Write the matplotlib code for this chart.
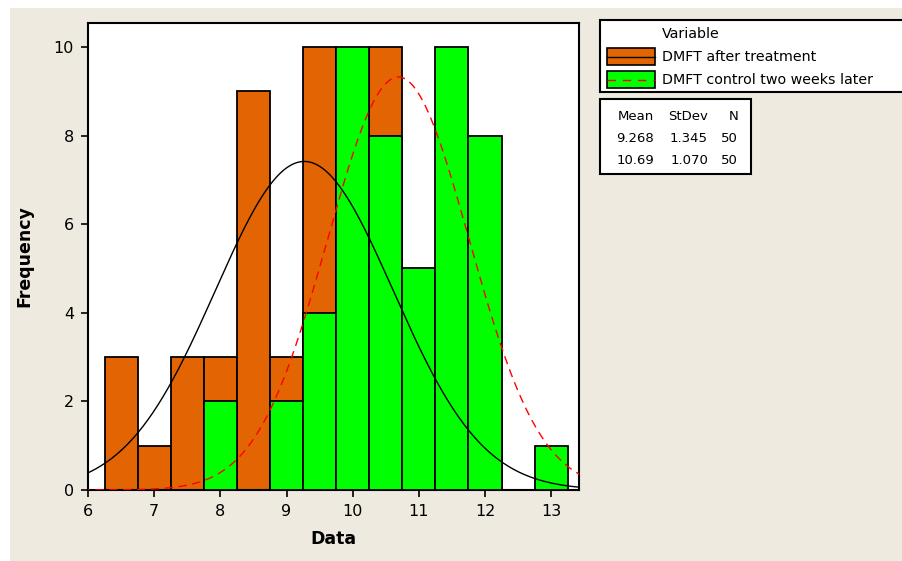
import numpy as np
import matplotlib
matplotlib.use("Agg")
import matplotlib.pyplot as plt
from matplotlib.patches import Rectangle
from matplotlib.lines import Line2D

# ---- data ----
bin_centers = [6.5, 7.0, 7.5, 8.0, 8.5, 9.0, 9.5, 10.0, 10.5, 11.0, 11.5, 12.0, 12.5, 13.0]
after_counts = [3, 1, 3, 3, 9, 3, 10, 3, 10, 3, 0, 2, 0, 0]
control_counts = [0, 0, 0, 2, 0, 2, 4, 10, 8, 5, 10, 8, 0, 1]
series_names = ["DMFT after treatment", "DMFT control two weeks later"]
means = [9.268, 10.69]
stdevs = [1.345, 1.070]
ns = [50, 50]
mean_labels = ["9.268", "10.69"]
sd_labels = ["1.345", "1.070"]
x_ticks = [6, 7, 8, 9, 10, 11, 12, 13]
y_ticks = [0, 2, 4, 6, 8, 10]
bin_width = 0.5

ORANGE = "#E36402"
GREEN = "#00FF00"
BEIGE = "#EEEAE0"

fig = plt.figure(figsize=(9.02, 5.61), dpi=100)
fig.patch.set_facecolor("white")
W, H = 902, 561

# background overlay in pixel coords
bg = fig.add_axes([0, 0, 1, 1], zorder=-5)
bg.set_xlim(0, W); bg.set_ylim(H, 0); bg.axis("off")
bg.add_patch(Rectangle((10, 8), W - 10, H - 8, facecolor=BEIGE, edgecolor="none"))

# main axes
L, T, R, B = 88, 23, 579, 490
ax = fig.add_axes([L / W, 1 - B / H, (R - L) / W, (B - T) / H])
ax.set_facecolor("white")
ax.bar(bin_centers, after_counts, width=bin_width, color=ORANGE, edgecolor="black",
       linewidth=1.3, zorder=2)
ax.bar(bin_centers, control_counts, width=bin_width, color=GREEN, edgecolor="black",
       linewidth=1.3, zorder=3)

xs = np.linspace(5.9, 13.5, 400)
for m, s, n, style, col in zip(means, stdevs, ns, ["-", (0, (6, 4))], ["black", "red"]):
    ys = n * bin_width * np.exp(-0.5 * ((xs - m) / s) ** 2) / (s * np.sqrt(2 * np.pi))
    ax.plot(xs, ys, linestyle=style, color=col, linewidth=1.0, zorder=4)

ax.set_xlim(6, 13.42)
ax.set_ylim(0, 10.54)
ax.set_xticks(x_ticks)
ax.set_yticks(y_ticks)
ax.tick_params(direction="out", length=5, width=1.2, labelsize=11.5, colors="black",
               pad=5)
for sp in ax.spines.values():
    sp.set_linewidth(1.5)
ax.set_xlabel("Data", fontsize=12.5, fontweight="bold", labelpad=8)
ax.set_ylabel("Frequency", fontsize=12.5, fontweight="bold", labelpad=15)

# ---- legend (pixel coordinates overlay) ----
ov = fig.add_axes([0, 0, 1, 1], zorder=10)
ov.set_xlim(0, W); ov.set_ylim(H, 0); ov.axis("off")
ov.add_patch(Rectangle((600, 20), 310, 72, facecolor="white", edgecolor="black", linewidth=1.5))
ov.text(662, 34, "Variable", fontsize=10.3, va="center", ha="left")
ov.add_patch(Rectangle((607, 48), 48, 17, facecolor=ORANGE, edgecolor="black", linewidth=1.2))
ov.add_line(Line2D([607, 655], [56.5, 56.5], color="black", linewidth=1.0))
ov.text(662, 56.5, series_names[0], fontsize=10.3, va="center", ha="left")
ov.add_patch(Rectangle((607, 71), 48, 17, facecolor=GREEN, edgecolor="black", linewidth=1.2))
ov.add_line(Line2D([607, 655], [79.5, 79.5], color="red", linewidth=1.0, linestyle=(0, (6, 5))))
ov.text(662, 79.5, series_names[1], fontsize=10.3, va="center", ha="left")

ov.add_patch(Rectangle((600, 99), 151, 75, facecolor="white", edgecolor="black", linewidth=1.5))
ov.text(654, 116, "Mean", fontsize=9.5, va="center", ha="right")
ov.text(708, 116, "StDev", fontsize=9.5, va="center", ha="right")
ov.text(738, 116, "N", fontsize=9.5, va="center", ha="right")
for i in range(2):
    yy = 138 + 22 * i
    ov.text(654, yy, mean_labels[i], fontsize=9.5, va="center", ha="right")
    ov.text(708, yy, sd_labels[i], fontsize=9.5, va="center", ha="right")
    ov.text(738, yy, str(ns[i]), fontsize=9.5, va="center", ha="right")

fig.savefig("out.png", dpi=100)
